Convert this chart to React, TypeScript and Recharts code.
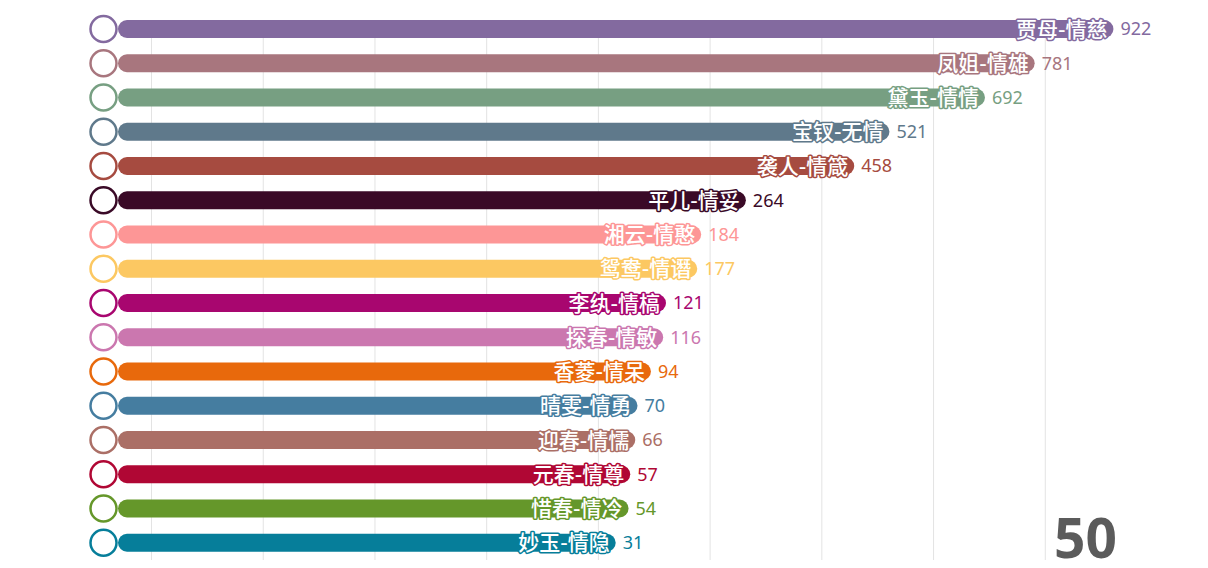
import { Bar, BarChart, CartesianGrid, LabelList, XAxis, YAxis } from "recharts";

// 红楼梦人物“情榜”条形竞赛图的一帧（第 50 回）。

const names = [
  "贾母-情慈",
  "凤姐-情雄",
  "黛玉-情情",
  "宝钗-无情",
  "袭人-情箴",
  "平儿-情妥",
  "湘云-情憨",
  "鸳鸯-情谮",
  "李纨-情槁",
  "探春-情敏",
  "香菱-情呆",
  "晴雯-情勇",
  "迎春-情懦",
  "元春-情尊",
  "惜春-情冷",
  "妙玉-情隐",
];
const values = [922, 781, 692, 521, 458, 264, 184, 177, 121, 116, 94, 70, 66, 57, 54, 31];
const colors = [
  "#836a9f",
  "#a8767e",
  "#779f82",
  "#5f798b",
  "#a64b40",
  "#3a0a27",
  "#fd9696",
  "#fcc862",
  "#a8066f",
  "#cb77af",
  "#e8690c",
  "#457da0",
  "#ab6f66",
  "#b00734",
  "#65972a",
  "#067e9a",
];
const axisMin = -860;
const axisMax = 1000;
const gridTicks = [-800, -600, -400, -200, 0, 200, 400, 600, 800];
const frameLabel = "50";

const rows = names.map((name, i) => ({
  name,
  value: values[i],
  color: colors[i],
  range: [axisMin, values[i]],
}));

// 网格线只画在刻度上（不画右端 1000 处那条）
function gridXs({ xAxis, offset }: any) {
  const s = xAxis?.scale;
  return gridTicks.map((t) => {
    if (typeof s === "function") return s(t);
    if (s && typeof s.map === "function") return s.map(t);
    return offset.left + ((t - axisMin) / (axisMax - axisMin)) * offset.width;
  });
}

// 矩形可能带负的宽/高，先归一化
function box(props: any) {
  const { x, y, width, height } = props;
  return {
    left: Math.min(x, x + width),
    top: Math.min(y, y + height),
    w: Math.abs(width),
    h: Math.abs(height),
  };
}

function PillBar(props: any) {
  const { left, top, w, h } = box(props);
  const c = colors[props.index];
  const r = h / 2;
  return (
    <g>
      <rect x={left} y={top} width={w} height={h} rx={r} ry={r} fill={c} />
      <circle cx={left - 14.5} cy={top + r} r={13} fill="#fff" stroke={c} strokeWidth={2.5} />
    </g>
  );
}

function NameLabel(props: any) {
  const { left, top, w, h } = box(props);
  const c = colors[props.index];
  return (
    <text
      x={left + w - 6}
      y={top + h / 2}
      dy="0.36em"
      textAnchor="end"
      fontSize={21}
      fontWeight={500}
      fontFamily="'Noto Sans CJK SC', sans-serif"
      fill="#fff"
      stroke={c}
      strokeWidth={3}
      strokeLinejoin="round"
      paintOrder="stroke"
    >
      {names[props.index]}
    </text>
  );
}

function ValueLabel(props: any) {
  const { left, top, w, h } = box(props);
  return (
    <text
      x={left + w + 7}
      y={top + h / 2}
      dy="0.36em"
      textAnchor="start"
      fontSize={18}
      fontFamily="'Noto Sans', sans-serif"
      fill={colors[props.index]}
    >
      {values[props.index]}
    </text>
  );
}

export default function App() {
  return (
    <div style={{ position: "absolute", left: 0, top: 0, width: 1208, height: 568, background: "#fff" }}>
      <BarChart
        width={1208}
        height={568}
        data={rows}
        layout="vertical"
        margin={{ top: 12, right: 51, bottom: 8, left: 118 }}
      >
        <CartesianGrid
          horizontal={false}
          stroke="#e3e3e3"
          y={21}
          height={539}
          verticalCoordinatesGenerator={gridXs}
        />
        <XAxis type="number" domain={[axisMin, axisMax]} ticks={gridTicks} hide />
        <YAxis type="category" dataKey="name" hide />
        <Bar dataKey="range" barSize={18} shape={<PillBar />} isAnimationActive={false}>
          <LabelList dataKey="name" content={<NameLabel />} />
          <LabelList dataKey="value" content={<ValueLabel />} />
        </Bar>
      </BarChart>
      <div
        style={{
          position: "absolute",
          right: 91,
          top: 509,
          fontFamily: "'Open Sans', sans-serif",
          fontWeight: 700,
          fontSize: 55,
          lineHeight: "56px",
          color: "#5b5b5b",
        }}
      >
        {frameLabel}
      </div>
    </div>
  );
}
